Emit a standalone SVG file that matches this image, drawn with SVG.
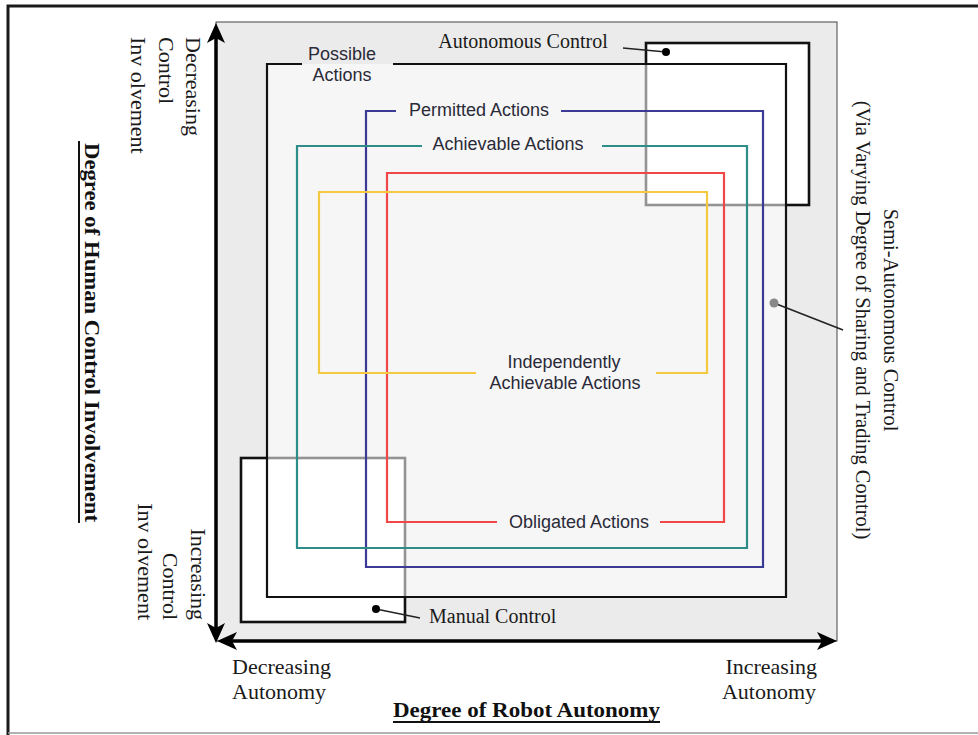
<svg xmlns="http://www.w3.org/2000/svg" width="978" height="735" viewBox="0 0 978 735">
<style>
.sans{font-family:"Liberation Sans",Arial,sans-serif;font-size:18px;fill:#2a2a38}
.serif{font-family:"Liberation Serif","Times New Roman",serif;fill:#1a1a1a}
.s20{font-size:20px}
.s22{font-size:22px}
.title{font-family:"Liberation Serif","Times New Roman",serif;font-size:20px;font-weight:bold;fill:#111}
.box{fill:none;stroke-width:2.2}
.ctl{fill:#fff;stroke:#111;stroke-width:2.6}
.axis{stroke:#000;stroke-width:3.5;fill:none}
.lead{stroke:#222;stroke-width:1.6;fill:none}
</style>
<defs>
<marker id="arr" viewBox="0 0 20 18" markerWidth="20" markerHeight="18" refX="16" refY="9" orient="auto-start-reverse" markerUnits="userSpaceOnUse">
<path d="M0,0 L20,9 L0,18 L5,9 z" fill="#000"/>
</marker>
</defs>
<rect width="978" height="735" fill="#fff"/>
<g id="frame">
<path d="M8,735 V6 H978" fill="none" stroke="#1a1a1a" stroke-width="3"/>
<line x1="8" y1="733" x2="978" y2="733" stroke="#999" stroke-width="1.5"/>
</g>
<g id="workspace">
<rect x="216" y="22" width="621" height="619" fill="#ebebeb" stroke="#444" stroke-width="1"/>
</g>
<g id="manual-control">
<rect class="ctl" x="241" y="458" width="164" height="164"/>
</g>
<g id="autonomous-control">
<rect class="ctl" x="646" y="43" width="163" height="162"/>
</g>
<g id="possible-actions">
<rect x="267" y="64" width="519" height="533" fill="#fff" fill-opacity="0.55"/>
<path class="box" d="M302,64 H267 V597 H786 V64 H393" stroke="#111" stroke-width="2.6"/>
<text class="sans" x="342" y="60" text-anchor="middle">Possible</text>
<text class="sans" x="342" y="81" text-anchor="middle">Actions</text>
</g>
<g id="permitted-actions">
<path class="box" d="M396,111 H366 V567 H763 V111 H561" stroke="#3b3b96"/>
<text class="sans" x="479" y="116" text-anchor="middle">Permitted Actions</text>
</g>
<g id="achievable-actions">
<path class="box" d="M422,146 H297 V548 H747 V146 H602" stroke="#2e8d89"/>
<text class="sans" x="508" y="150" text-anchor="middle">Achievable Actions</text>
</g>
<g id="obligated-actions">
<path class="box" d="M497,522 H387 V173 H724 V522 H660" stroke="#f04848"/>
<text class="sans" x="579" y="528" text-anchor="middle">Obligated Actions</text>
</g>
<g id="independently-achievable-actions">
<path class="box" d="M476,373 H319 V192 H707 V373 H656" stroke="#f5c842"/>
<text class="sans" x="564" y="368" text-anchor="middle">Independently</text>
<text class="sans" x="565" y="389" text-anchor="middle">Achievable Actions</text>
</g>
<g id="axes">
<line class="axis" x1="216" y1="639" x2="216" y2="27" marker-start="url(#arr)" marker-end="url(#arr)"/>
<line class="axis" x1="221" y1="641" x2="833" y2="641" marker-start="url(#arr)" marker-end="url(#arr)"/>
</g>
<g id="connectors">
<line class="lead" x1="623" y1="48" x2="666" y2="52"/>
<circle cx="666" cy="52" r="4" fill="#000"/>
<line class="lead" x1="376" y1="609" x2="420" y2="618"/>
<circle cx="376" cy="609" r="4" fill="#000"/>
<line class="lead" x1="774" y1="303" x2="843" y2="330"/>
<circle cx="774" cy="303" r="4.5" fill="#888"/>
</g>
<g id="labels">
<text class="serif s20" x="523" y="48" text-anchor="middle">Autonomous Control</text>
<text class="serif s20" x="429" y="623">Manual Control</text>
<text class="serif s22" x="232" y="674">Decreasing</text>
<text class="serif s22" x="232" y="699">Autonomy</text>
<text class="serif s22" x="817" y="674" text-anchor="end">Increasing</text>
<text class="serif s22" x="816" y="699" text-anchor="end">Autonomy</text>
<text class="serif s22" transform="translate(186,37) rotate(90)">Decreasing</text>
<text class="serif s22" transform="translate(159,37) rotate(90)">Control</text>
<text class="serif s22" transform="translate(131,37) rotate(90)">Inv olvement</text>
<text class="serif s22" transform="translate(191,620) rotate(90)" text-anchor="end">Increasing</text>
<text class="serif s22" transform="translate(163,620) rotate(90)" text-anchor="end">Control</text>
<text class="serif s22" transform="translate(138,620) rotate(90)" text-anchor="end">Inv olvement</text>
<text class="serif" style="font-size:20.5px" transform="translate(884,320) rotate(90)" text-anchor="middle">Semi-Autonomous Control</text>
<text class="serif" style="font-size:20.5px" transform="translate(856,320) rotate(90)" text-anchor="middle">(Via Varying Degree of Sharing and Trading Control)</text>
<text class="title" x="393" y="717" textLength="267" lengthAdjust="spacingAndGlyphs">Degree of Robot Autonomy</text>
<line x1="393" y1="722" x2="660" y2="722" stroke="#111" stroke-width="2"/>
<text class="title" transform="translate(85,143) rotate(90)" textLength="379" lengthAdjust="spacingAndGlyphs">Degree of Human Control Involvement</text>
<line x1="79" y1="141" x2="79" y2="523" stroke="#111" stroke-width="2"/>
</g>
</svg>
